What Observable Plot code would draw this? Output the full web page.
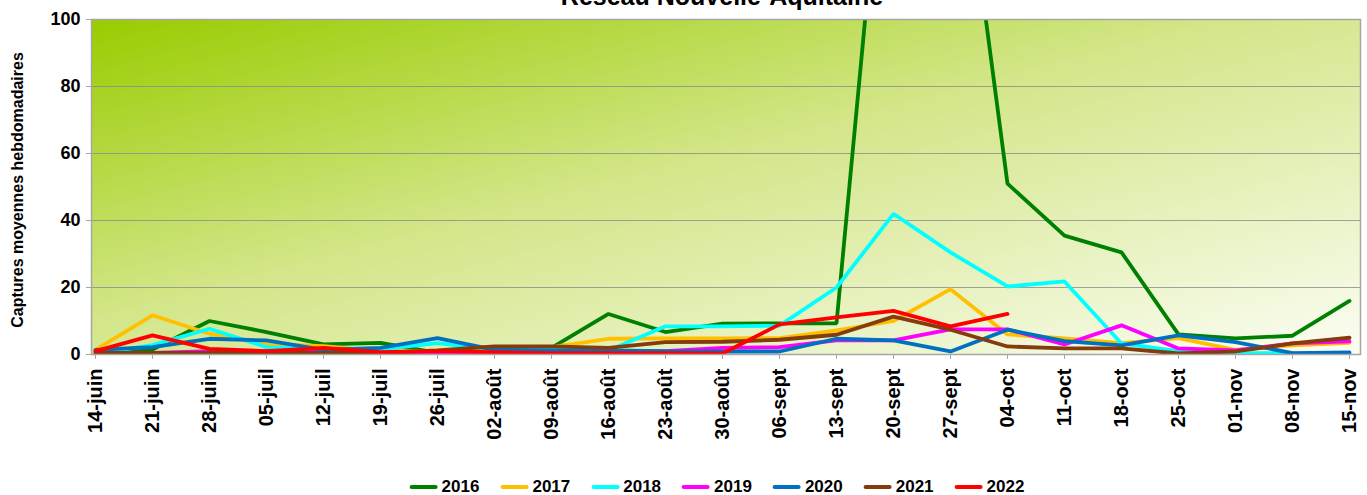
<!DOCTYPE html>
<html>
<head>
<meta charset="utf-8">
<script src="https://cdn.jsdelivr.net/npm/d3@7"></script>
<script src="https://cdn.jsdelivr.net/npm/@observablehq/plot@0.6"></script>
<style>
  html, body { margin: 0; padding: 0; background: #fff; overflow: hidden; }
  body { font-family: "Liberation Sans", Arial, sans-serif; }
  #wrap { position: relative; width: 1367px; height: 495px; overflow: hidden; }
  #title { position: absolute; left: 722px; top: -18px; transform: translateX(-50%); font-weight: bold; font-size: 25px; white-space: nowrap; color: #000; }
  #ylab { position: absolute; left: 18px; top: 190px; transform: translate(-50%, -50%) rotate(-90deg); font-weight: bold; font-size: 16px; white-space: nowrap; color: #000; }
  #legend { position: absolute; left: 717px; top: 477px; transform: translateX(-50%); display: flex; gap: 21px; font-weight: bold; font-size: 17px; white-space: nowrap; }
  .item { display: flex; align-items: center; gap: 4px; }
  .sw { width: 28px; height: 4px; border-radius: 2px; }
</style>
</head>
<body>
<div id="wrap">
  <div id="title">Réseau Nouvelle-Aquitaine</div>
  <div id="ylab">Captures moyennes hebdomadaires</div>
  <div id="legend"></div>
</div>
<script>
const dates = ["14-juin","21-juin","28-juin","05-juil","12-juil","19-juil","26-juil","02-août","09-août","16-août","23-août","30-août","06-sept","13-sept","20-sept","27-sept","04-oct","11-oct","18-oct","25-oct","01-nov","08-nov","15-nov"];
const years = ["2016","2017","2018","2019","2020","2021","2022"];
const colors = ["#008000","#FFC000","#00FFFF","#FF00FF","#0070C0","#843C0C","#FF0000"];
const yTicks = [0, 20, 40, 60, 80, 100];

const y2016 = [1, 1.5, 10, 6.7, 3, 3.5, 0.5, 1, 2, 12.1, 6.7, 9.2, 9.3, 9.3, 190, 180, 51, 35.5, 30.5, 6, 4.8, 5.6, 16];
const y2017 = [1.4, 11.7, 6.2, 3.2, 2.5, 1, 1, 1.5, 2.2, 4.7, 4.8, 4.8, 4.9, 7.2, 10, 19.5, 6, 4.8, 3.4, 4.9, 1.4, 2.7, 3.5];
const y2018 = [0.2, 2.8, 7.7, 2.2, 1.5, 1.5, 3.4, 1.4, 1.4, 1.2, 8.4, 8.4, 8.6, 20, 42, 30.5, 20.3, 21.8, 3.3, 1, 0.5, 0.3, 0.2];
const y2019 = [0.3, 0.5, 1, 1, 0.8, 0.5, 0.5, 0.5, 0.5, 0.5, 1, 2, 2.2, 4.2, 4.2, 7.5, 7.5, 3, 8.7, 1.8, 1.2, 3.3, 3.9];
const y2020 = [1.4, 2.2, 4.7, 4.2, 1.4, 2, 4.9, 1.4, 1.2, 1.2, 1, 0.9, 0.9, 4.7, 4.2, 0.9, 7.4, 4, 2.7, 5.7, 3.7, 0.4, 0.6];
const y2021 = [0.5, 0.5, 0.5, 0.5, 0.5, 0.5, 1.2, 2.4, 2.4, 2, 3.7, 3.8, 4.4, 5.9, 11.3, 7.4, 2.4, 1.8, 1.8, 0.3, 0.9, 3.3, 5];
const y2022 = [1, 5.7, 1.7, 1, 2, 0.7, 1, 0.7, 0.4, 0.4, 0.4, 0.3, 9, 11.1, 13, 8.4, 12.1];

const series = [y2016, y2017, y2018, y2019, y2020, y2021, y2022];
const rows = [];
series.forEach((vals, i) => vals.forEach((v, j) => rows.push({year: years[i], date: dates[j], value: v})));

const chart = Plot.plot({
  width: 1367,
  height: 495,
  marginTop: 19,
  marginLeft: 91,
  marginRight: 7,
  marginBottom: 141,
  style: {fontFamily: "'Liberation Sans', Arial, sans-serif", background: "transparent", color: "#000"},
  x: {type: "point", domain: dates, padding: 0, insetRight: 8},
  y: {domain: [0, 100]},
  color: {domain: years, range: colors},
  marks: [
    Plot.frame({fill: "url(#bgGrad)", stroke: null}),
    Plot.gridY(yTicks.filter(d => d > 0 && d < 100), {stroke: "#8c8c8c", strokeOpacity: 0.8, strokeWidth: 1.2}),
    Plot.line(rows, {x: "date", y: "value", z: "year", stroke: "year", strokeWidth: 3.8, clip: true, strokeLinejoin: "miter"}),
    Plot.frame({stroke: "#a6a6a6", strokeWidth: 1.5}),
    Plot.axisY({ticks: yTicks, tickSize: 5, tickPadding: 6, fontSize: 18, fontWeight: "bold", label: null, stroke: "#a6a6a6"}),
    Plot.axisX({tickSize: 5, tickPadding: 9, tickRotate: -90, fontSize: 20, fontWeight: "bold", label: null, stroke: "#a6a6a6"})
  ]
});

const defs = `<defs><linearGradient id="bgGrad" x1="0" y1="0" x2="1" y2="1">
  <stop offset="0" stop-color="#99CC00"/>
  <stop offset="0.45" stop-color="#d3e689"/>
  <stop offset="1" stop-color="#fbfdf3"/>
</linearGradient></defs>`;
d3.select(chart).insert("g", ":first-child").html(defs);
d3.select(chart).style("position", "absolute").style("left", "0").style("top", "0");

const wrap = document.getElementById("wrap");
wrap.insertBefore(chart, wrap.firstChild);

const legend = document.getElementById("legend");
years.forEach((y, i) => {
  const it = document.createElement("div");
  it.className = "item";
  it.innerHTML = `<span class="sw" style="background:${colors[i]}"></span><span>${y}</span>`;
  legend.appendChild(it);
});
</script>
</body>
</html>
